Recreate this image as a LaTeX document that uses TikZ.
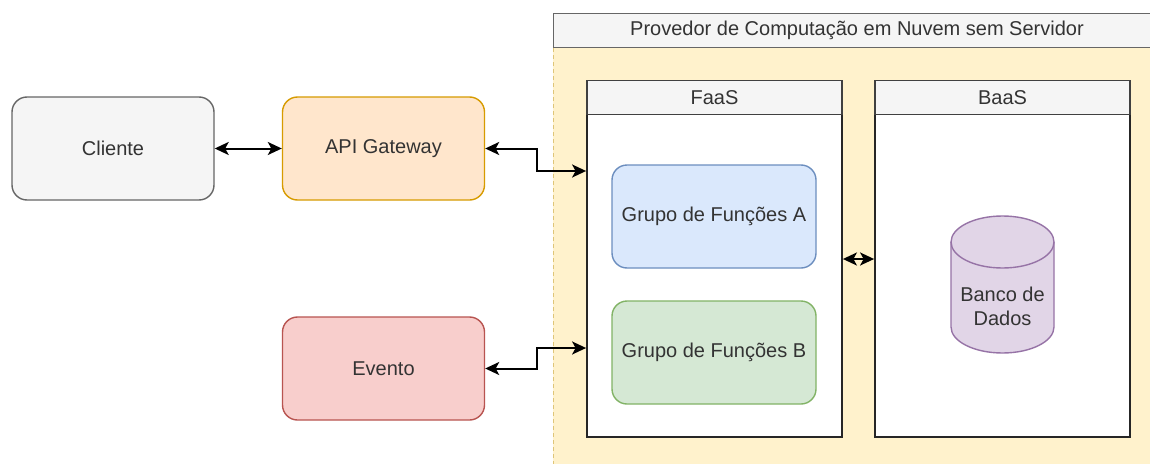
\documentclass[tikz,border=0pt]{standalone}
\usepackage{fontspec}
\setmainfont{Liberation Sans}
\usetikzlibrary{arrows.meta}

\definecolor{txt}{HTML}{333333}
\definecolor{greyfill}{HTML}{F5F5F5}
\definecolor{greyline}{HTML}{666666}
\definecolor{orfill}{HTML}{FFE6CC}
\definecolor{orline}{HTML}{D79B00}
\definecolor{redfill}{HTML}{F8CECC}
\definecolor{redline}{HTML}{B85450}
\definecolor{bluefill}{HTML}{DAE8FC}
\definecolor{blueline}{HTML}{6C8EBF}
\definecolor{greenfill}{HTML}{D5E8D4}
\definecolor{greenline}{HTML}{82B366}
\definecolor{purplefill}{HTML}{E1D5E7}
\definecolor{purpleline}{HTML}{9673A6}
\definecolor{yelfill}{HTML}{FFF2CC}
\definecolor{yelline}{HTML}{D6B656}

\tikzset{
  txtstyle/.style={text=txt, font=\fontsize{20}{24}\selectfont},
  roundbox/.style={draw, rounded corners=15pt, line width=1.4pt,
    minimum width=202pt, minimum height=103pt, txtstyle},
  groupbox/.style={roundbox, minimum width=204pt},
  lanebody/.style={draw=black!85, fill=white, line width=1.8pt,
    minimum width=255pt, minimum height=356pt},
  lanehead/.style={draw=black!75, fill=greyfill, line width=1.2pt,
    minimum width=255pt, minimum height=34pt, anchor=north, txtstyle},
  biarrow/.style={line width=2pt, black,
    {Stealth[length=14pt,width=13pt,inset=3.5pt]}-{Stealth[length=14pt,width=13pt,inset=3.5pt]}}
}

\begin{document}
\begin{tikzpicture}[x=1pt, y=-1pt]
\useasboundingbox (0,0) rectangle (1150,463);
\fill[white] (0,0) rectangle (1150,463);

% serverless provider container
\node[fill=yelfill, minimum width=620pt, minimum height=480pt, anchor=north west,
      inner sep=0pt] (prov) at (553,13) {};
\draw[yelline!80, line width=1pt, dash pattern=on 4pt off 3pt]
  (prov.north west) -- (prov.south west);
\node[draw=greyline, fill=greyfill, line width=1.2pt, minimum width=620pt,
      minimum height=34pt, anchor=north west, inner sep=0pt] (provhead) at (553,13) {};
\node[txtstyle] (provtitle) at (857,30) {Provedor de Computação em Nuvem sem Servidor};

% FaaS lane
\node[lanebody] (faas) at (714.5,259) {};
\node[lanehead] (faashead) at (faas.north) {FaaS};

% BaaS lane
\node[lanebody] (baas) at (1002.5,259) {};
\node[lanehead] (baashead) at (baas.north) {BaaS};

% external boxes
\node[roundbox, fill=greyfill, draw=greyline] (cli) at (113,148.5) {Cliente};
\node[roundbox, fill=orfill, draw=orline] (api) at (383.5,148.5) {API Gateway};
\node[roundbox, fill=redfill, draw=redline] (evt) at (383.5,368.5) {Evento};

% function groups
\node[groupbox, fill=bluefill, draw=blueline] (ga) at (714,216.5) {Grupo de Funções A};
\node[groupbox, fill=greenfill, draw=greenline] (gb) at (714,352.5) {Grupo de Funções B};

% database cylinder
\draw[fill=purplefill, draw=purpleline, line width=1.4pt]
  (951,242) -- (951,327)
  arc[start angle=180, end angle=360, x radius=51.5pt, y radius=26pt]
  -- (1054,242)
  arc[start angle=0, end angle=180, x radius=51.5pt, y radius=26pt] -- cycle;
\draw[draw=purpleline, line width=1.4pt]
  (951,242) arc[start angle=180, end angle=360, x radius=51.5pt, y radius=26pt];
\node[txtstyle, align=center] (db) at (1002.5,306) {Banco de\\Dados};

% connectors
\draw[biarrow] (cli.east) -- (api.west);
\draw[biarrow] (api.east) -- (537,148.5) |- ([yshift=88pt]faas.west);
\draw[biarrow] (evt.east) -- (537,368.5) |- ([yshift=-89pt]faas.west);
\draw[biarrow] (faas.east) -- (baas.west);
\end{tikzpicture}
\end{document}
